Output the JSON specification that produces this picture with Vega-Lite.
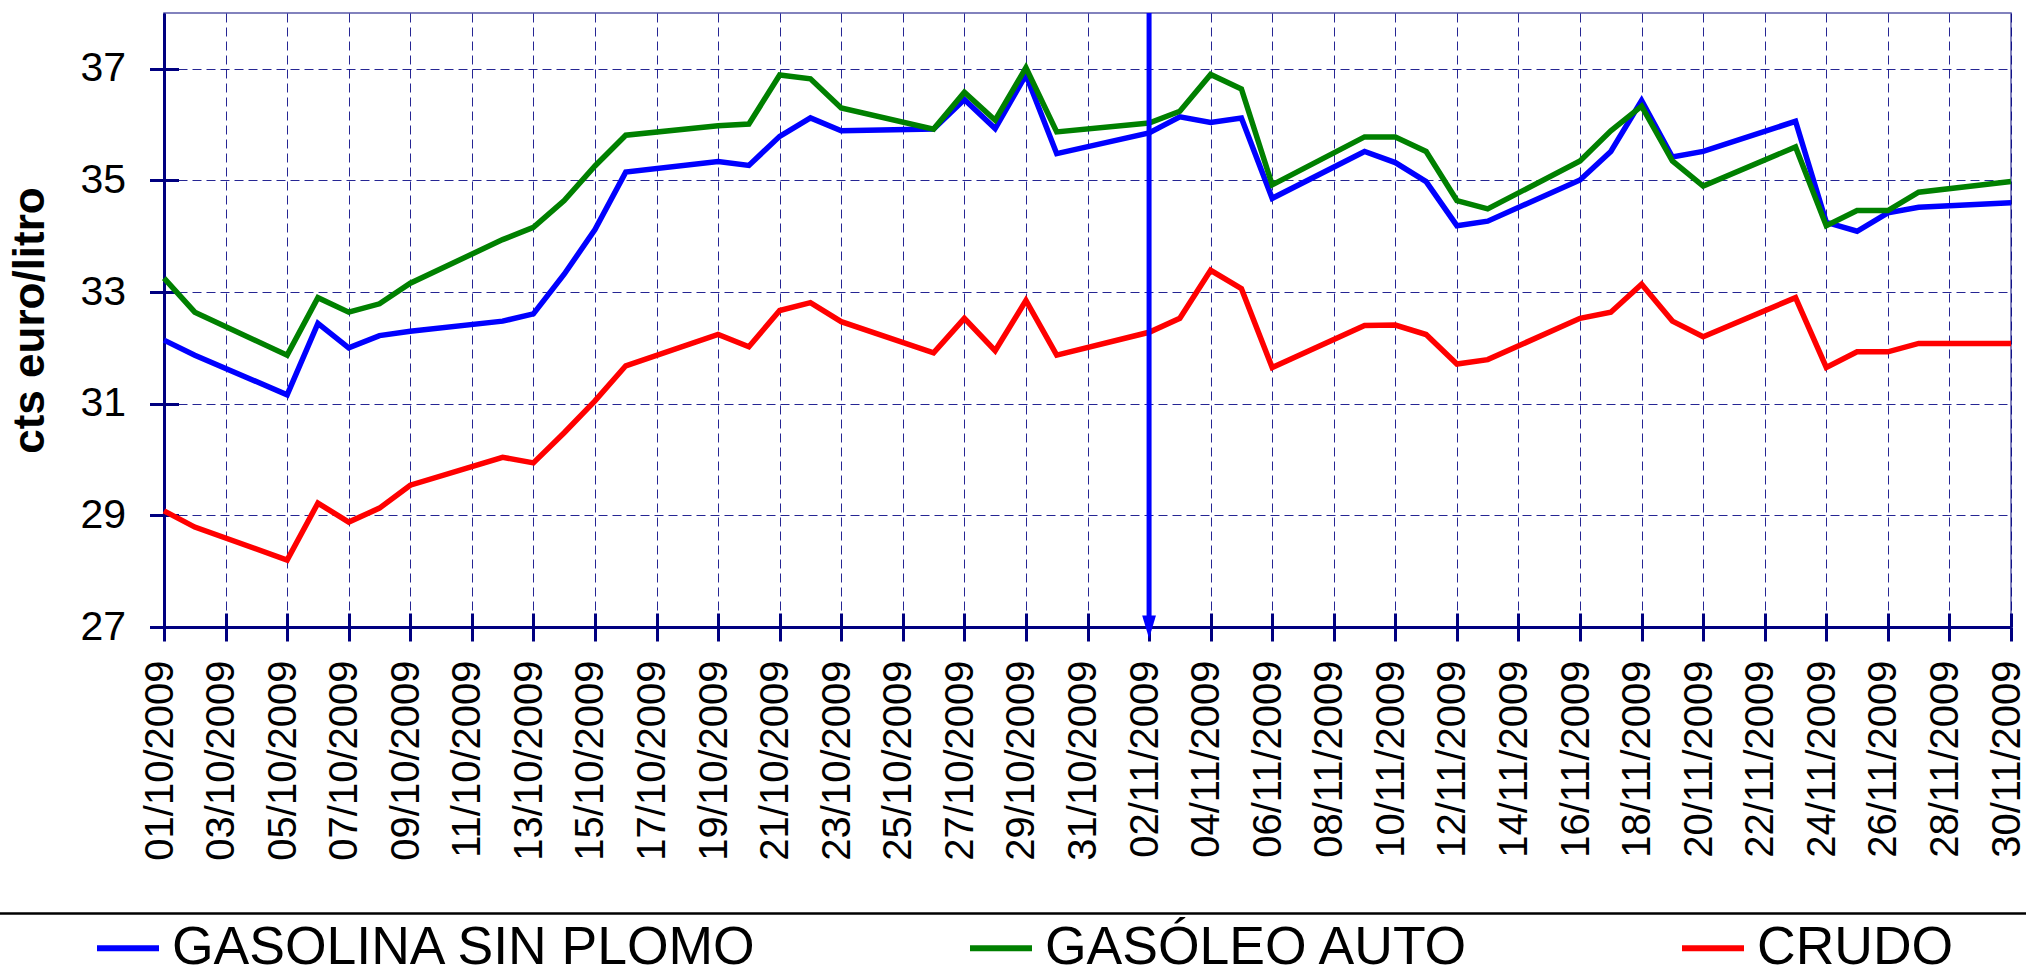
{
  "$schema": "https://vega.github.io/schema/vega-lite/v6.json",
  "width": 1847,
  "height": 614,
  "autosize": {"type": "none"},
  "padding": {"left": 164, "top": 13, "right": 15, "bottom": 351},
  "background": "white",
  "config": {
    "font": "Liberation Sans",
    "view": {"stroke": "#5a5aa8", "strokeWidth": 1.5}
  },
  "datasets": {
    "precios": [
      {"fecha": "2009-10-01", "gasolina": 32.14, "gasoleo": 33.25, "crudo": 29.08},
      {"fecha": "2009-10-02", "gasolina": 31.87, "gasoleo": 32.64, "crudo": 28.79},
      {"fecha": "2009-10-05", "gasolina": 31.16, "gasoleo": 31.87, "crudo": 28.20},
      {"fecha": "2009-10-06", "gasolina": 32.44, "gasoleo": 32.90, "crudo": 29.22},
      {"fecha": "2009-10-07", "gasolina": 32.00, "gasoleo": 32.64, "crudo": 28.88},
      {"fecha": "2009-10-08", "gasolina": 32.22, "gasoleo": 32.79, "crudo": 29.13},
      {"fecha": "2009-10-09", "gasolina": 32.30, "gasoleo": 33.16, "crudo": 29.54},
      {"fecha": "2009-10-12", "gasolina": 32.48, "gasoleo": 33.94, "crudo": 30.04},
      {"fecha": "2009-10-13", "gasolina": 32.61, "gasoleo": 34.16, "crudo": 29.94},
      {"fecha": "2009-10-14", "gasolina": 33.32, "gasoleo": 34.64, "crudo": 30.48},
      {"fecha": "2009-10-15", "gasolina": 34.12, "gasoleo": 35.26, "crudo": 31.05},
      {"fecha": "2009-10-16", "gasolina": 35.15, "gasoleo": 35.81, "crudo": 31.68},
      {"fecha": "2009-10-19", "gasolina": 35.34, "gasoleo": 35.98, "crudo": 32.24},
      {"fecha": "2009-10-20", "gasolina": 35.27, "gasoleo": 36.01, "crudo": 32.02},
      {"fecha": "2009-10-21", "gasolina": 35.79, "gasoleo": 36.89, "crudo": 32.67},
      {"fecha": "2009-10-22", "gasolina": 36.12, "gasoleo": 36.82, "crudo": 32.81},
      {"fecha": "2009-10-23", "gasolina": 35.89, "gasoleo": 36.30, "crudo": 32.47},
      {"fecha": "2009-10-26", "gasolina": 35.92, "gasoleo": 35.92, "crudo": 31.91},
      {"fecha": "2009-10-27", "gasolina": 36.45, "gasoleo": 36.58, "crudo": 32.53},
      {"fecha": "2009-10-28", "gasolina": 35.93, "gasoleo": 36.08, "crudo": 31.95},
      {"fecha": "2009-10-29", "gasolina": 36.89, "gasoleo": 37.02, "crudo": 32.85},
      {"fecha": "2009-10-30", "gasolina": 35.48, "gasoleo": 35.87, "crudo": 31.87},
      {"fecha": "2009-11-02", "gasolina": 35.85, "gasoleo": 36.03, "crudo": 32.28},
      {"fecha": "2009-11-03", "gasolina": 36.14, "gasoleo": 36.24, "crudo": 32.53},
      {"fecha": "2009-11-04", "gasolina": 36.04, "gasoleo": 36.90, "crudo": 33.39},
      {"fecha": "2009-11-05", "gasolina": 36.12, "gasoleo": 36.64, "crudo": 33.06},
      {"fecha": "2009-11-06", "gasolina": 34.68, "gasoleo": 34.92, "crudo": 31.65},
      {"fecha": "2009-11-09", "gasolina": 35.52, "gasoleo": 35.78, "crudo": 32.40},
      {"fecha": "2009-11-10", "gasolina": 35.32, "gasoleo": 35.78, "crudo": 32.41},
      {"fecha": "2009-11-11", "gasolina": 34.98, "gasoleo": 35.52, "crudo": 32.24},
      {"fecha": "2009-11-12", "gasolina": 34.19, "gasoleo": 34.64, "crudo": 31.71},
      {"fecha": "2009-11-13", "gasolina": 34.27, "gasoleo": 34.49, "crudo": 31.79},
      {"fecha": "2009-11-16", "gasolina": 35.01, "gasoleo": 35.35, "crudo": 32.53},
      {"fecha": "2009-11-17", "gasolina": 35.52, "gasoleo": 35.89, "crudo": 32.64},
      {"fecha": "2009-11-18", "gasolina": 36.43, "gasoleo": 36.33, "crudo": 33.14},
      {"fecha": "2009-11-19", "gasolina": 35.42, "gasoleo": 35.35, "crudo": 32.48},
      {"fecha": "2009-11-20", "gasolina": 35.52, "gasoleo": 34.90, "crudo": 32.20},
      {"fecha": "2009-11-23", "gasolina": 36.06, "gasoleo": 35.60, "crudo": 32.90},
      {"fecha": "2009-11-24", "gasolina": 34.25, "gasoleo": 34.19, "crudo": 31.65},
      {"fecha": "2009-11-25", "gasolina": 34.09, "gasoleo": 34.46, "crudo": 31.93},
      {"fecha": "2009-11-26", "gasolina": 34.42, "gasoleo": 34.46, "crudo": 31.93},
      {"fecha": "2009-11-27", "gasolina": 34.52, "gasoleo": 34.79, "crudo": 32.08},
      {"fecha": "2009-11-30", "gasolina": 34.60, "gasoleo": 34.98, "crudo": 32.08}
    ],
    "marca": [{"fecha": "2009-11-02", "valor": 27}]
  },
  "layer": [
    {
      "layer": [
        {
          "data": {"name": "precios"},
          "transform": [{"fold": ["gasolina", "gasoleo", "crudo"], "as": ["serie", "valor"]}],
          "mark": {"type": "line", "strokeWidth": 5.5},
          "encoding": {
            "x": {
              "field": "fecha", "type": "temporal",
              "scale": {"type": "utc", "domain": [{"year": 2009, "month": 10, "date": 1, "utc": true}, {"year": 2009, "month": 11, "date": 30, "utc": true}]},
              "axis": {
                "orient": "bottom", "title": null,
                "values": [
                  {"year": 2009, "month": 10, "date": 1, "utc": true}, {"year": 2009, "month": 10, "date": 3, "utc": true}, {"year": 2009, "month": 10, "date": 5, "utc": true}, {"year": 2009, "month": 10, "date": 7, "utc": true}, {"year": 2009, "month": 10, "date": 9, "utc": true}, {"year": 2009, "month": 10, "date": 11, "utc": true}, {"year": 2009, "month": 10, "date": 13, "utc": true}, {"year": 2009, "month": 10, "date": 15, "utc": true}, {"year": 2009, "month": 10, "date": 17, "utc": true}, {"year": 2009, "month": 10, "date": 19, "utc": true}, {"year": 2009, "month": 10, "date": 21, "utc": true}, {"year": 2009, "month": 10, "date": 23, "utc": true}, {"year": 2009, "month": 10, "date": 25, "utc": true}, {"year": 2009, "month": 10, "date": 27, "utc": true}, {"year": 2009, "month": 10, "date": 29, "utc": true}, {"year": 2009, "month": 10, "date": 31, "utc": true},
                  {"year": 2009, "month": 11, "date": 2, "utc": true}, {"year": 2009, "month": 11, "date": 4, "utc": true}, {"year": 2009, "month": 11, "date": 6, "utc": true}, {"year": 2009, "month": 11, "date": 8, "utc": true}, {"year": 2009, "month": 11, "date": 10, "utc": true}, {"year": 2009, "month": 11, "date": 12, "utc": true}, {"year": 2009, "month": 11, "date": 14, "utc": true}, {"year": 2009, "month": 11, "date": 16, "utc": true}, {"year": 2009, "month": 11, "date": 18, "utc": true}, {"year": 2009, "month": 11, "date": 20, "utc": true}, {"year": 2009, "month": 11, "date": 22, "utc": true}, {"year": 2009, "month": 11, "date": 24, "utc": true}, {"year": 2009, "month": 11, "date": 26, "utc": true}, {"year": 2009, "month": 11, "date": 28, "utc": true}, {"year": 2009, "month": 11, "date": 30, "utc": true}
                ],
                "format": "%d/%m/%Y", "labelAngle": -90, "labelFontSize": 40, "labelColor": "black", "labelPadding": 19, "labelLimit": 500, "labelOffset": -4,
                "labelOverlap": false, "labelFlush": false, "labelBound": false,
                "tickSize": 14, "tickWidth": 3, "tickColor": "#000080",
                "domainColor": "#000080", "domainWidth": 3,
                "grid": true, "gridColor": "#000080", "gridDash": [9, 5], "gridWidth": 1, "gridOpacity": 0.85
              }
            },
            "y": {
              "field": "valor", "type": "quantitative",
              "scale": {"domain": [27, 38], "nice": false, "zero": false},
              "axis": {
                "orient": "left", "values": [27, 29, 31, 33, 35, 37],
                "title": "cts euro/litro", "titleFontSize": 44, "titleFontWeight": "bold", "titleColor": "black", "titlePadding": 27,
                "labelFontSize": 41, "labelColor": "black", "labelPadding": 24,
                "tickSize": 14.5, "tickWidth": 3, "tickColor": "#000080",
                "domainColor": "#000080", "domainWidth": 3,
                "grid": true, "gridColor": "#000080", "gridDash": [9, 5], "gridWidth": 1, "gridOpacity": 0.85
              }
            },
            "color": {
              "field": "serie", "type": "nominal",
              "scale": {"domain": ["gasolina", "gasoleo", "crudo"], "range": ["#0000ff", "#008000", "#ff0000"]},
              "legend": {
                "orient": "none", "legendX": -70, "legendY": 901,
                "direction": "horizontal", "columns": 3, "columnPadding": 200,
                "title": null, "padding": 0,
                "symbolType": "stroke", "symbolSize": 3844, "symbolStrokeWidth": 6,
                "labelFontSize": 53.5, "labelColor": "black", "labelOffset": 10, "labelLimit": 2000,
                "labelExpr": "datum.value == 'gasolina' ? 'GASOLINA SIN PLOMO' : datum.value == 'gasoleo' ? 'GASÓLEO AUTO' : 'CRUDO'"
              }
            }
          }
        },
        {
          "data": {"name": "marca"},
          "mark": {"type": "rule", "color": "#0000ff", "strokeWidth": 5},
          "encoding": {"x": {"field": "fecha", "type": "temporal", "axis": null}}
        },
        {
          "data": {"name": "marca"},
          "mark": {"type": "point", "shape": "M-0.6,-1L0.6,-1L0,1Z", "filled": true, "color": "#0000ff", "size": 529, "opacity": 1},
          "encoding": {
            "x": {
              "field": "fecha", "type": "temporal",
              "axis": {
                "orient": "bottom", "title": null, "offset": -14, "tickSize": 14, "tickWidth": 3, "tickColor": "#000080",
                "domain": false, "labels": false, "grid": false,
                "values": [
                  {"year": 2009, "month": 10, "date": 1, "utc": true}, {"year": 2009, "month": 10, "date": 3, "utc": true}, {"year": 2009, "month": 10, "date": 5, "utc": true}, {"year": 2009, "month": 10, "date": 7, "utc": true}, {"year": 2009, "month": 10, "date": 9, "utc": true}, {"year": 2009, "month": 10, "date": 11, "utc": true}, {"year": 2009, "month": 10, "date": 13, "utc": true}, {"year": 2009, "month": 10, "date": 15, "utc": true}, {"year": 2009, "month": 10, "date": 17, "utc": true}, {"year": 2009, "month": 10, "date": 19, "utc": true}, {"year": 2009, "month": 10, "date": 21, "utc": true}, {"year": 2009, "month": 10, "date": 23, "utc": true}, {"year": 2009, "month": 10, "date": 25, "utc": true}, {"year": 2009, "month": 10, "date": 27, "utc": true}, {"year": 2009, "month": 10, "date": 29, "utc": true}, {"year": 2009, "month": 10, "date": 31, "utc": true},
                  {"year": 2009, "month": 11, "date": 2, "utc": true}, {"year": 2009, "month": 11, "date": 4, "utc": true}, {"year": 2009, "month": 11, "date": 6, "utc": true}, {"year": 2009, "month": 11, "date": 8, "utc": true}, {"year": 2009, "month": 11, "date": 10, "utc": true}, {"year": 2009, "month": 11, "date": 12, "utc": true}, {"year": 2009, "month": 11, "date": 14, "utc": true}, {"year": 2009, "month": 11, "date": 16, "utc": true}, {"year": 2009, "month": 11, "date": 18, "utc": true}, {"year": 2009, "month": 11, "date": 20, "utc": true}, {"year": 2009, "month": 11, "date": 22, "utc": true}, {"year": 2009, "month": 11, "date": 24, "utc": true}, {"year": 2009, "month": 11, "date": 26, "utc": true}, {"year": 2009, "month": 11, "date": 28, "utc": true}, {"year": 2009, "month": 11, "date": 30, "utc": true}
                ]
              }
            },
            "y": {
              "field": "valor", "type": "quantitative",
              "axis": {
                "orient": "left", "title": null, "offset": -14.5, "tickSize": 14.5, "tickWidth": 3, "tickColor": "#000080",
                "domain": false, "labels": false, "grid": false, "values": [27, 29, 31, 33, 35, 37]
              }
            }
          }
        }
      ],
      "resolve": {"axis": {"x": "independent", "y": "independent"}}
    },
    {
      "data": {"name": "marca"},
      "mark": {"type": "point", "opacity": 0, "size": 1},
      "encoding": {
        "x": {
          "field": "fecha", "type": "temporal",
          "scale": {"type": "utc", "range": [-260, 2160]},
          "axis": {
            "orient": "bottom", "offset": 286, "title": null,
            "domain": true, "domainColor": "black", "domainWidth": 2.5,
            "ticks": false, "labels": false, "grid": false
          }
        }
      }
    }
  ],
  "resolve": {"scale": {"x": "independent"}, "axis": {"x": "independent"}}
}
